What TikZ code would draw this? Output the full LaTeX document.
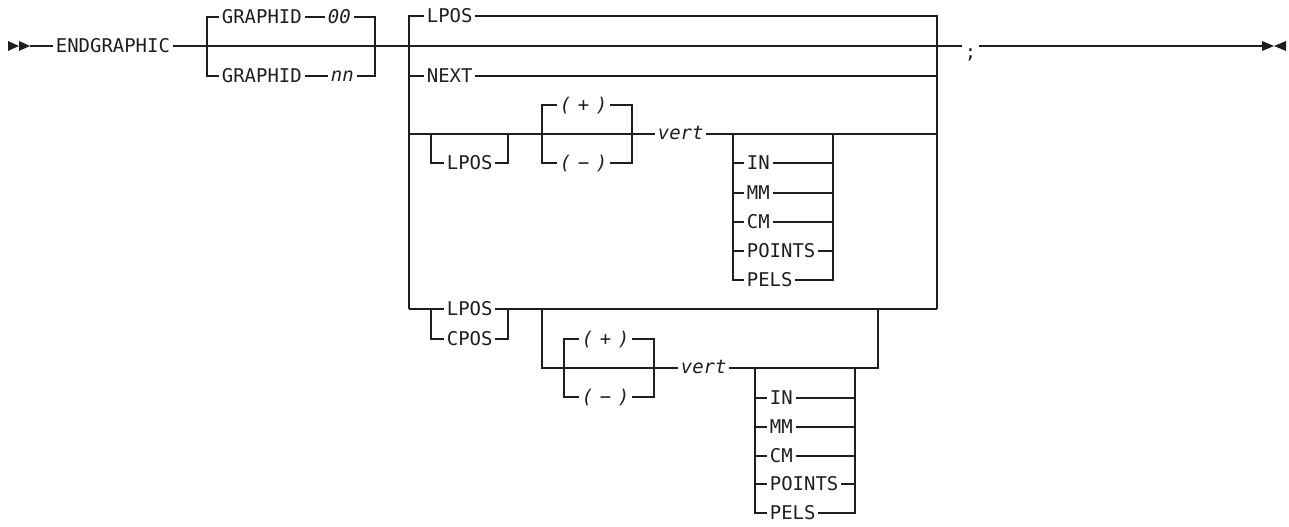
\documentclass[tikz,border=0pt]{standalone}
\usepackage{fontspec}
\newfontfamily\rrfont[Scale=1.42]{DejaVu Sans Mono}
\definecolor{ink}{HTML}{1E1E1E}
\newcommand\rrcap[1]{\smash{#1}\rule{0pt}{\fontcharht\font`E}}
\newcommand\rrlow[1]{\smash{#1}\rule{0pt}{\fontcharht\font`x}}
\newcommand\rrpm[1]{(\hspace{0.35em}#1\hspace{0.35em})}
\tikzset{
  rr/.style={line width=1pt, draw=ink},
  kw/.style={font=\rrfont, text=ink, anchor=west,
             inner xsep=2pt, inner ysep=0pt, text depth=0pt},
  itkw/.style={kw, font=\rrfont\itshape},
  endmark/.style={fill=ink, draw=none}
}
\begin{document}
\begin{tikzpicture}[x=0.75pt,y=-0.75pt]
\useasboundingbox (0,0) rectangle (1289,527);
% start / end markers
\fill[endmark] (8,41) -- (19,46) -- (8,51) -- cycle;
\fill[endmark] (19,41) -- (30,46) -- (19,51) -- cycle;
\fill[endmark] (1262,41) -- (1274,46) -- (1262,51) -- cycle;
\fill[endmark] (1286,41) -- (1274,46) -- (1286,51) -- cycle;
\coordinate (st) at (30,46);
\coordinate (en) at (1262,46);

% main row
\node[kw] (endg) at (53,46) {\rrcap{ENDGRAPHIC}};
\coordinate (a1) at (207,46);
\coordinate (a2) at (375,46);
\node[kw] (gid1) at (219,17) {\rrcap{GRAPHID}};
\node[itkw] (z0) at (325,17) {\rrcap{00}};
\node[kw] (gid2) at (219,76) {\rrcap{GRAPHID}};
\node[itkw] (nn) at (328,76) {\rrlow{nn}};
\coordinate (b1) at (409,46);
\coordinate (b2) at (937,46);
\node[kw] (lposA) at (424,16) {\rrcap{LPOS}};
\node[kw] (next) at (424,76) {\rrcap{NEXT}};
\node[kw] (semi) at (962,46) {\rrlow{\raisebox{-0.4em}{;}}};

\draw[rr] (st) -- (endg.west);
\draw[rr] (endg.east) -- (a1) -- (a2) -- (b1) -- (b2) -- (semi.west);
\draw[rr] (semi.east) -- (en);
\draw[rr] (a1) |- (gid1.west);
\draw[rr] (gid1.east) -- (z0.west);
\draw[rr] (z0.east) -| (a2);
\draw[rr] (a1) |- (gid2.west);
\draw[rr] (gid2.east) -- (nn.west);
\draw[rr] (nn.east) -| (a2);
\draw[rr] (b1) |- (lposA.west);
\draw[rr] (lposA.east) -| (b2);
\draw[rr] (b1) |- (next.west);
\draw[rr] (next.east) -| (b2);

% row 3
\coordinate (r3l) at (409,134);
\coordinate (r3r) at (937,134);
\coordinate (o1) at (431,134);
\coordinate (o2) at (508,134);
\node[kw] (lposB) at (444,163) {\rrcap{LPOS}};
\coordinate (p1) at (542,134);
\coordinate (p2) at (632,134);
\node[itkw] (plusA) at (557,105) {\rrcap{\rrpm{+}}};
\node[itkw] (minusA) at (557,163) {\rrcap{\rrpm{−}}};
\node[itkw] (vertA) at (655,134) {\rrlow{vert}};
\coordinate (u1) at (733,134);
\coordinate (u2) at (833,134);
\node[kw] (inA) at (744,163) {\rrcap{IN}};
\node[kw] (mmA) at (744,193) {\rrcap{MM}};
\node[kw] (cmA) at (744,222) {\rrcap{CM}};
\node[kw] (ptA) at (744,251) {\rrcap{POINTS}};
\node[kw] (plA) at (744,280) {\rrcap{PELS}};

\draw[rr] (r3l) -- (o1) -- (o2) -- (p1) -- (p2) -- (vertA.west);
\draw[rr] (vertA.east) -- (u1) -- (u2) -- (r3r);
\draw[rr] (o1) |- (lposB.west);
\draw[rr] (lposB.east) -| (o2);
\draw[rr] (p1) |- (plusA.west);
\draw[rr] (plusA.east) -| (p2);
\draw[rr] (p1) |- (minusA.west);
\draw[rr] (minusA.east) -| (p2);
\foreach \n in {inA,mmA,cmA,ptA,plA}{
  \draw[rr] (u1) |- (\n.west);
  \draw[rr] (\n.east) -| (u2);
}

% row 4
\coordinate (r4l) at (409,309);
\coordinate (r4r) at (937,309);
\coordinate (c1) at (431,309);
\coordinate (c2) at (508,309);
\node[kw] (lposC) at (444,309) {\rrcap{LPOS}};
\node[kw] (cpos) at (444,339) {\rrcap{CPOS}};
\coordinate (g1) at (542,309);
\coordinate (g2) at (878,309);
\coordinate (g1b) at (542,368);
\coordinate (g2b) at (878,368);
\coordinate (q1) at (564,368);
\coordinate (q2) at (654,368);
\node[itkw] (plusB) at (579,339) {\rrcap{\rrpm{+}}};
\node[itkw] (minusB) at (579,397) {\rrcap{\rrpm{−}}};
\node[itkw] (vertB) at (678,368) {\rrlow{vert}};
\coordinate (v1) at (755,368);
\coordinate (v2) at (855,368);
\node[kw] (inB) at (767,398) {\rrcap{IN}};
\node[kw] (mmB) at (767,427) {\rrcap{MM}};
\node[kw] (cmB) at (767,456) {\rrcap{CM}};
\node[kw] (ptB) at (767,484) {\rrcap{POINTS}};
\node[kw] (plB) at (767,513) {\rrcap{PELS}};

\draw[rr] (b1) -- (r3l) -- (r4l);
\draw[rr] (b2) -- (r3r) -- (r4r);
\draw[rr] (r4l) -- (c1) -- (lposC.west);
\draw[rr] (lposC.east) -- (c2) -- (g1) -- (g2) -- (r4r);
\draw[rr] (c1) |- (cpos.west);
\draw[rr] (cpos.east) -| (c2);
\draw[rr] (g1) -- (g1b) -- (q1) -- (q2) -- (vertB.west);
\draw[rr] (vertB.east) -- (v1) -- (v2) -- (g2b) -- (g2);
\draw[rr] (q1) |- (plusB.west);
\draw[rr] (plusB.east) -| (q2);
\draw[rr] (q1) |- (minusB.west);
\draw[rr] (minusB.east) -| (q2);
\foreach \n in {inB,mmB,cmB,ptB,plB}{
  \draw[rr] (v1) |- (\n.west);
  \draw[rr] (\n.east) -| (v2);
}
\end{tikzpicture}
\end{document}
